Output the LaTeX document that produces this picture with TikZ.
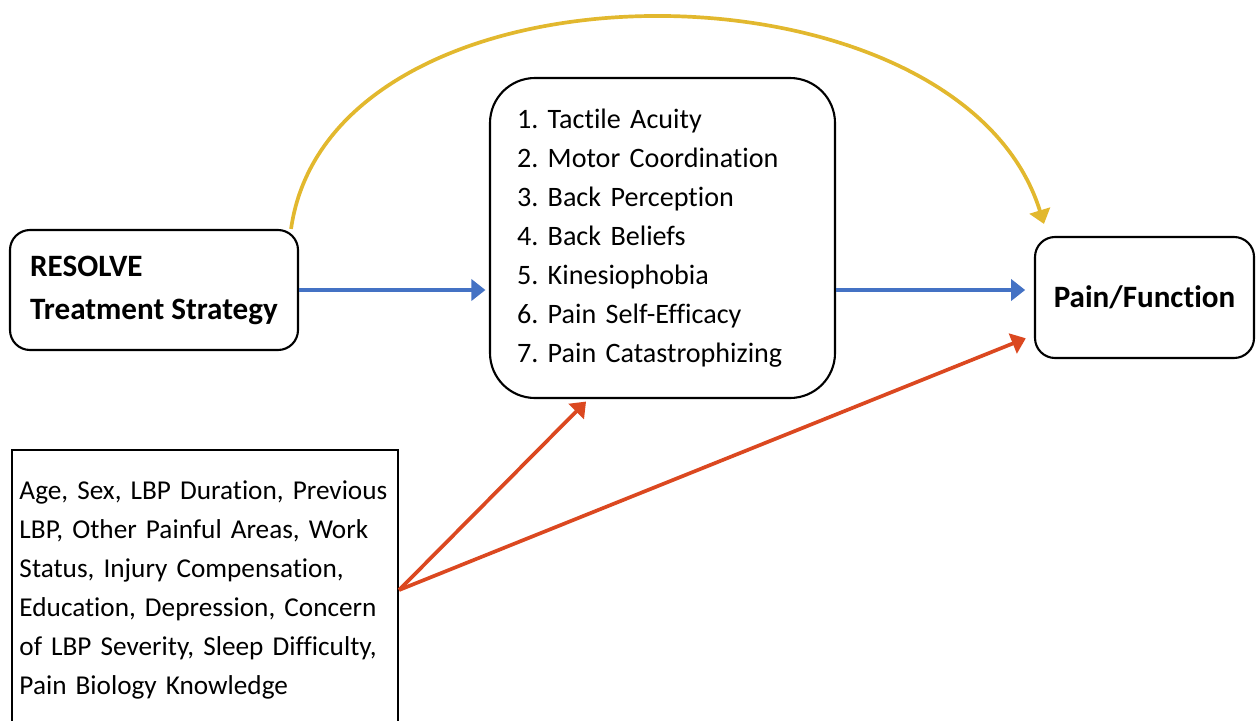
\documentclass[tikz,border=0pt]{standalone}
\usepackage{fontspec}
\setmainfont{Carlito}[Ligatures={NoCommon}]
\usetikzlibrary{arrows.meta}
\frenchspacing
\definecolor{arrblue}{RGB}{68,114,196}
\definecolor{arryellow}{RGB}{226,184,46}
\definecolor{arrred}{RGB}{219,72,32}
\tikzset{rblock/.style = {draw, fill=white, very thick, rectangle, rounded corners=0.4cm, align=left, inner ysep=0pt},
         mblock/.style = {draw, fill=white, very thick, rectangle, rounded corners=0.9cm, align=left, inner ysep=0pt},
         sqblock/.style= {draw, fill=white, very thick, rectangle, align=left, inner ysep=0pt},
         conn/.style   = {line width=2.1pt, -{Triangle[length=8pt,width=12pt]}}}

\begin{document}
\begin{tikzpicture}
        \useasboundingbox (0,0) rectangle (25.12,-14.4);
        % boxes
        \node[rblock, minimum width=5.76cm, minimum height=2.4cm,
              font=\fontsize{17.7}{24.5}\selectfont\bfseries](resolve)at(3.08,-5.8){RESOLVE\\Treatment Strategy};
        \node[mblock, text width=5.82cm, inner xsep=0.54cm, minimum height=6.4cm,
              font=\fontsize{16}{22.2}\selectfont](mediators)at(13.25,-4.76){1. Tactile Acuity\\2. Motor Coordination\\3. Back Perception\\4. Back Beliefs\\5. Kinesiophobia\\6. Pain Self-Efficacy\\7. Pain Catastrophizing};
        \node[rblock, align=center, minimum width=4.38cm, minimum height=2.42cm,
              font=\fontsize{17.7}{24}\selectfont\bfseries](outcome)at(22.89,-5.95){Pain/Function};
        \node[sqblock, text width=7.42cm, inner xsep=0.15cm, minimum height=5.6cm,
              font=\fontsize{15.5}{22.2}\selectfont](covars)at(4.1,-11.8){Age, Sex, LBP Duration, Previous\\LBP, Other Painful Areas, Work\\Status, Injury Compensation,\\Education, Depression, Concern\\of LBP Severity, Sleep Difficulty,\\Pain Biology Knowledge};

        % arrows
        \draw[conn, arrblue, shorten >=2pt](resolve.east)--(mediators.west |- resolve.east);
        \draw[conn, arrblue, shorten >=5pt](mediators.east |- resolve.east)--(outcome.west |- resolve.east);
        \draw[conn, arryellow]([xshift=-0.16cm]resolve.north east)
              .. controls +(0.8,5.64) and +(-1.7,5.5) .. ([xshift=0.2cm,yshift=0.24cm]outcome.north west);
        \draw[conn, arrred, shorten >=2pt](covars.east)--([xshift=-1.48cm]mediators.south);
        \draw[conn, arrred, shorten >=5pt](covars.east)--([yshift=-0.75cm]outcome.west);
    \end{tikzpicture}
\end{document}
